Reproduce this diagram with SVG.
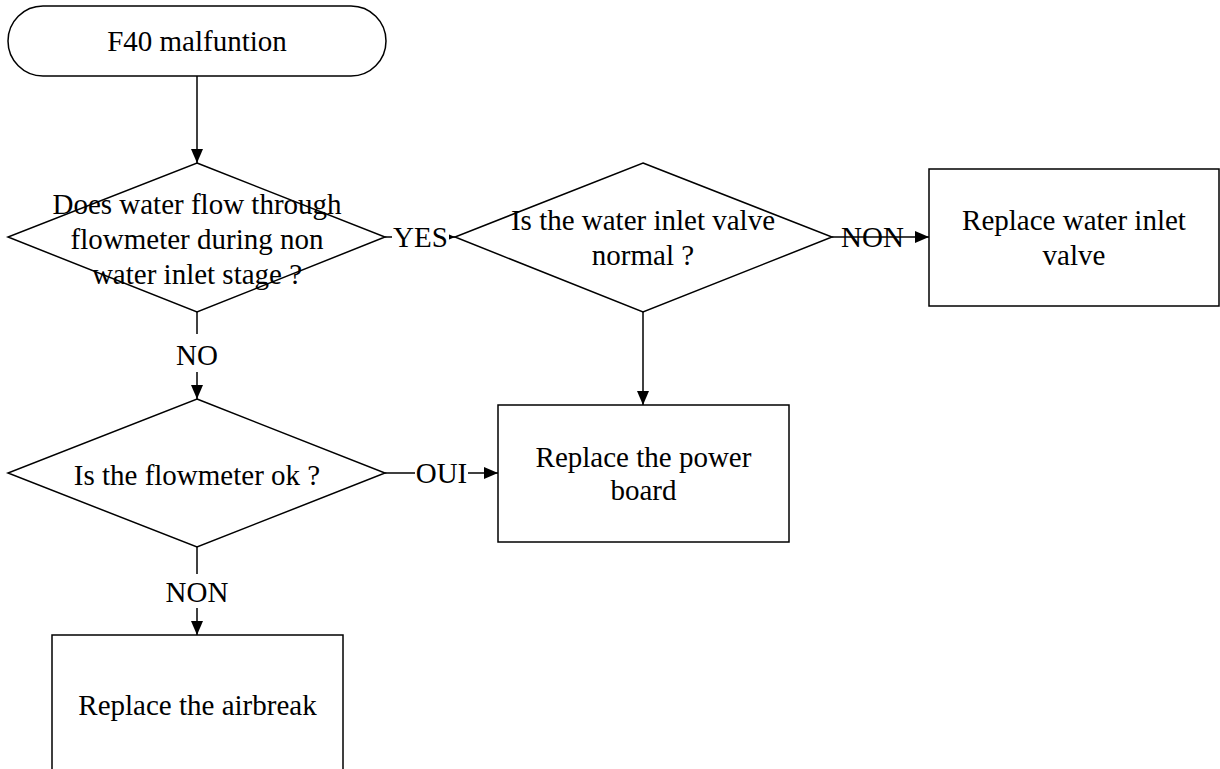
<svg xmlns="http://www.w3.org/2000/svg" width="1220" height="769" viewBox="0 0 1220 769">
<style>
.shape{fill:#fff;stroke:#000;stroke-width:1.5}
.t{font-family:"Liberation Serif","Times New Roman",serif;font-size:29px;fill:#000;text-anchor:middle}
.edge{stroke:#000;stroke-width:1.5;fill:none}
.lbg{fill:#fff;stroke:none}
</style>
<defs>
<marker id="arr" markerUnits="userSpaceOnUse" markerWidth="14" markerHeight="12" refX="14" refY="6" orient="auto">
<path d="M0,0 L14,6 L0,12 Z" fill="#000"/>
</marker>
</defs>
<rect width="1220" height="769" fill="#fff"/>
<g id="connectors">
<line class="edge" x1="197" y1="76" x2="197" y2="163" marker-end="url(#arr)"/>
<line class="edge" x1="385" y1="237" x2="455" y2="237" marker-end="url(#arr)"/>
<line class="edge" x1="832" y1="237" x2="929" y2="237" marker-end="url(#arr)"/>
<line class="edge" x1="643" y1="312" x2="643" y2="405" marker-end="url(#arr)"/>
<line class="edge" x1="197" y1="312" x2="197" y2="399" marker-end="url(#arr)"/>
<line class="edge" x1="385" y1="473" x2="498" y2="473" marker-end="url(#arr)"/>
<line class="edge" x1="197" y1="547" x2="197" y2="635" marker-end="url(#arr)"/>
<rect class="lbg" x="392" y="222" width="57" height="32"/>
<text class="t" x="420.5" y="247">YES</text>
<text class="t" x="872.5" y="247">NON</text>
<rect class="lbg" x="178" y="334" width="38" height="38"/>
<text class="t" x="197" y="365">NO</text>
<rect class="lbg" x="415" y="458" width="53" height="32"/>
<text class="t" x="441.5" y="483">OUI</text>
<rect class="lbg" x="170" y="574" width="54" height="34"/>
<text class="t" x="197" y="602">NON</text>
</g>
<g id="start">
<rect class="shape" x="8" y="6" width="378" height="70" rx="35" ry="35"/>
<text class="t" x="197" y="51">F40 malfuntion</text>
</g>
<g id="q-flow">
<polygon class="shape" points="197,163 385,237 197,312 8,237" style="fill:none"/>
<text class="t" x="197" y="214">Does water flow through</text>
<text class="t" x="197" y="249">flowmeter during non</text>
<text class="t" x="197" y="284">water inlet stage ?</text>
</g>
<g id="q-valve">
<polygon class="shape" points="643,163 832,237 643,312 455,237" style="fill:none"/>
<text class="t" x="643" y="230">Is the water inlet valve</text>
<text class="t" x="643" y="265">normal ?</text>
</g>
<g id="replace-valve">
<rect class="shape" x="929" y="169" width="290" height="137"/>
<text class="t" x="1074" y="230">Replace water inlet</text>
<text class="t" x="1074" y="265">valve</text>
</g>
<g id="q-flowmeter">
<polygon class="shape" points="197,399 385,473 197,547 8,473" style="fill:none"/>
<text class="t" x="197" y="485">Is the flowmeter ok ?</text>
</g>
<g id="replace-board">
<rect class="shape" x="498" y="405" width="291" height="137"/>
<text class="t" x="643.5" y="467">Replace the power</text>
<text class="t" x="643.5" y="500">board</text>
</g>
<g id="replace-airbreak">
<rect class="shape" x="52" y="635" width="291" height="160"/>
<text class="t" x="197.5" y="715">Replace the airbreak</text>
</g>
</svg>
